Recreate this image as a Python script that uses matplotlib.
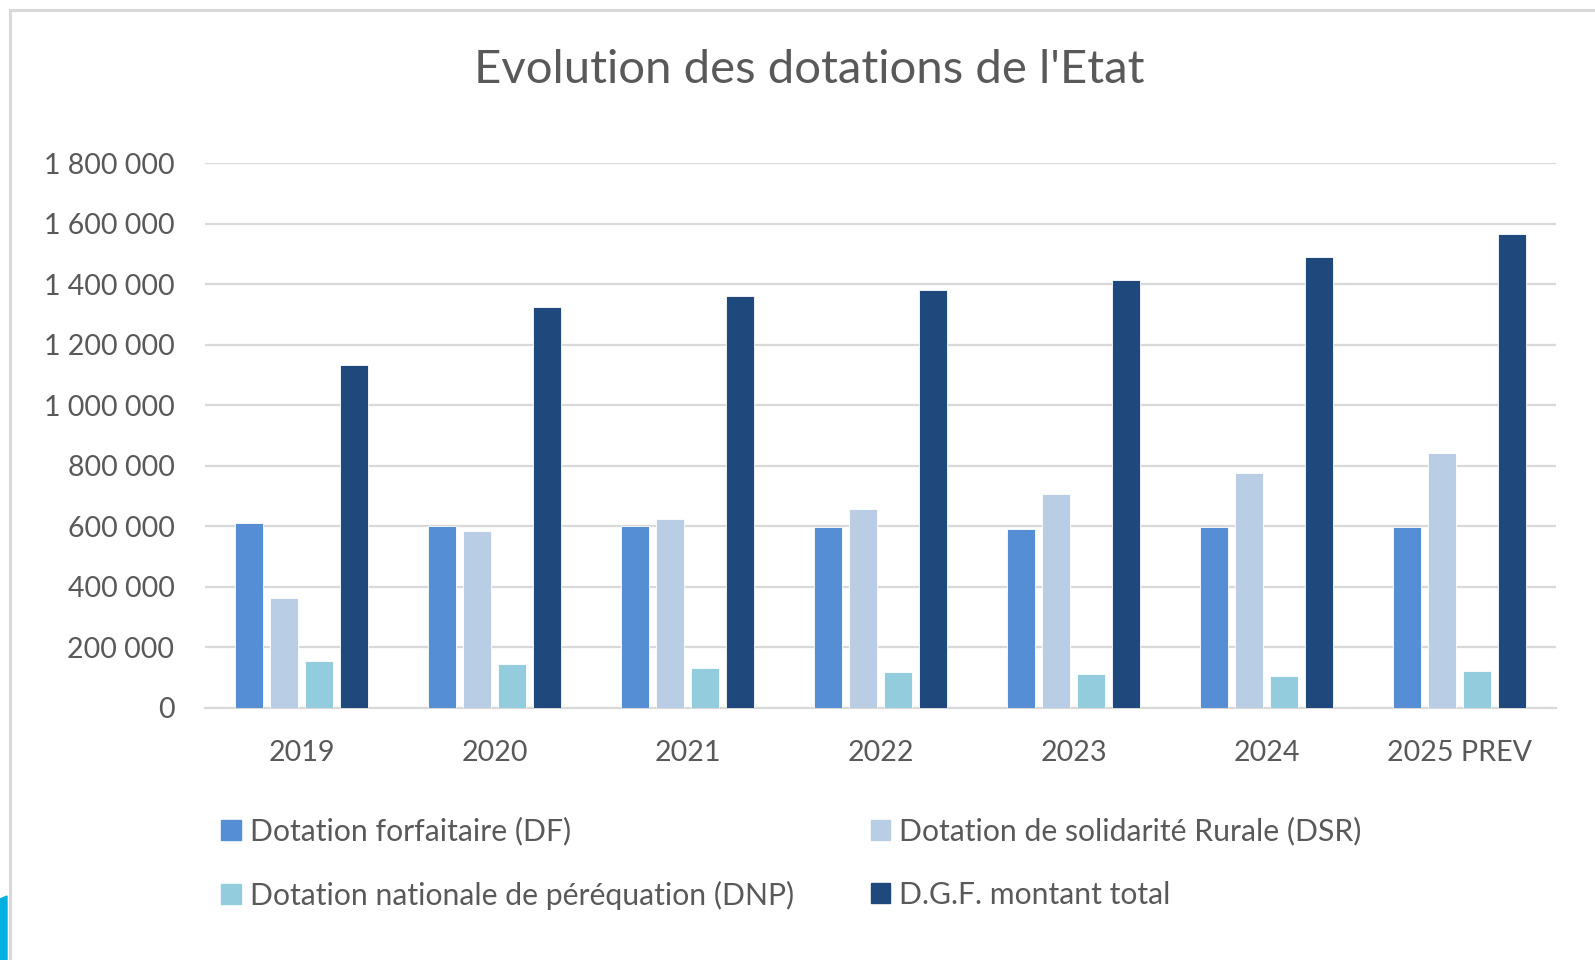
import matplotlib
matplotlib.use("Agg")
import matplotlib.pyplot as plt
from matplotlib.patches import Rectangle, Polygon, Patch
from matplotlib.ticker import FuncFormatter
import numpy as np

# data
years = ["2019", "2020", "2021", "2022", "2023", "2024", "2025 PREV"]
df_vals = [612000, 602000, 602000, 599000, 592000, 599000, 599000]
dsr_vals = [364000, 583000, 624000, 656000, 707000, 777000, 841000]
dnp_vals = [155000, 144000, 132000, 118000, 112000, 107000, 123000]
dgf_vals = [1134000, 1324000, 1361000, 1380000, 1414000, 1489000, 1565000]

series_names = ["Dotation forfaitaire (DF)",
                "Dotation de solidarité Rurale (DSR)",
                "Dotation nationale de péréquation (DNP)",
                "D.G.F. montant total"]
colors = ["#558ED5", "#B9CDE5", "#93CDDD", "#1F497D"]

plt.rcParams["font.family"] = ["Lato", "DejaVu Sans"]
text_col = "#595959"
grid_col = "#D9D9D9"

fig = plt.figure(figsize=(15.95, 9.6), dpi=100)
ax = fig.add_axes([205 / 1595, 1 - 708 / 960, (1556 - 205) / 1595, (708 - 163) / 960])

x = np.arange(len(years))
width = 0.145
step = 0.181
offsets = [-1.5 * step, -0.5 * step, 0.5 * step, 1.5 * step]
all_vals = [df_vals, dsr_vals, dnp_vals, dgf_vals]
for vals, off, c in zip(all_vals, offsets, colors):
    ax.bar(x + off, vals, width, color=c, edgecolor="white", linewidth=0.6, zorder=3)

ax.set_xlim(-0.5, len(years) - 0.5)
ax.set_ylim(0, 1800000)
ax.set_yticks(np.arange(0, 1800001, 200000))
ax.yaxis.set_major_formatter(FuncFormatter(lambda v, p: f"{int(v):,}".replace(",", " ")))
ax.set_xticks(x)
ax.set_xticklabels(years)
ax.grid(axis="y", color=grid_col, linewidth=1.6, zorder=0)
ax.set_axisbelow(True)
for s in ["top", "right", "left"]:
    ax.spines[s].set_visible(False)
ax.spines["bottom"].set_color(grid_col)
ax.spines["bottom"].set_linewidth(1.6)
ax.tick_params(axis="both", length=0, labelcolor=text_col)
ax.tick_params(axis="y", pad=22, labelsize=20.5)
ax.tick_params(axis="x", pad=23, labelsize=20.6)

fig.text(809 / 1595, 1 - 70 / 960, "Evolution des dotations de l'Etat",
         ha="center", va="center", fontsize=34, color=text_col)

handles = [Patch(color=c) for c in colors]
order = [0, 2, 1, 3]
fig.legend([handles[i] for i in order], [series_names[i] for i in order],
           ncol=2, loc="upper left", bbox_to_anchor=(194 / 1595, 1 - 790 / 960),
           frameon=False, fontsize=21.7, labelcolor=text_col,
           handlelength=0.65, handleheight=0.65, handletextpad=0.3,
           columnspacing=2.55, labelspacing=1.16)

# frame of the chart area and slide decoration
fig.patches.append(Rectangle((9.5 / 1595, -0.1), 1.2, 1 - 9.5 / 960 + 0.1,
                             transform=fig.transFigure, fill=False,
                             edgecolor=grid_col, linewidth=2.2))
fig.patches.append(Polygon([(0, 0), (7 / 1595, 0), (7 / 1595, 1 - 896 / 960), (0, 1 - 899 / 960)],
                           closed=True, transform=fig.transFigure, color="#00B0E0"))

fig.savefig("out.png", dpi=100)
